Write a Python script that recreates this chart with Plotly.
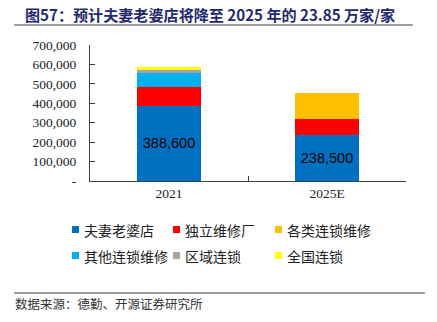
import plotly.graph_objects as go

categories = ["2021", "2025E"]
series_names = ["夫妻老婆店", "独立维修厂", "各类连锁维修", "其他连锁维修", "区域连锁", "全国连锁"]
mom_pop = [388600, 238500]
independent = [97000, 79000]
all_chains = [0, 134000]
other_chains = [72000, 0]
regional = [16000, 0]
national = [12000, 0]
colors = ["#0070C0", "#FF0000", "#FFC000", "#00B0F0", "#A5A5A5", "#FFFF00"]
y_tickvals = [0, 100000, 200000, 300000, 400000, 500000, 600000, 700000]
y_ticktext = ["-", "100,000", "200,000", "300,000", "400,000", "500,000", "600,000", "700,000"]

title_text = "图57：预计夫妻老婆店将降至 2025 年的 23.85 万家/家"
source_text = "数据来源：德勤、开源证券研究所"

series_values = [mom_pop, independent, all_chains, other_chains, regional, national]

# plot area geometry (px)
L, R, T, B = 90, 406, 45, 181
W, H = R - L, B - T

def fx(px):
    return (px - L) / W

def fy(py):
    return (B - py) / H

fig = go.Figure()
for i, (name, vals) in enumerate(zip(series_names, series_values)):
    kw = {}
    if i == 0:
        kw = dict(text=[f"{v:,}" for v in vals], textposition="inside",
                  insidetextanchor="middle",
                  textfont=dict(family="Liberation Sans, Arial", size=14.5, color="black"))
    fig.add_trace(go.Bar(x=categories, y=vals, name=name,
                         marker=dict(color=colors[i], line=dict(width=0)),
                         hoverinfo="skip", showlegend=False, **kw))

fig.update_layout(
    width=437, height=322,
    barmode="stack", bargap=0.595,
    margin=dict(l=L, r=437 - R, t=T, b=322 - B),
    plot_bgcolor="white", paper_bgcolor="white",
    showlegend=False,
    uniformtext=dict(minsize=8, mode="show"),
)
fig.update_xaxes(showline=True, linecolor="#404040", linewidth=1,
                 ticks="inside", ticklen=5, tickcolor="#404040",
                 tickson="boundaries",
                 tickfont=dict(family="Liberation Serif, Times New Roman", size=13.5, color="#222222"))
fig.update_yaxes(range=[0, 700000], showline=True, linecolor="#404040", linewidth=1,
                 tickvals=y_tickvals, ticktext=y_ticktext,
                 ticks="inside", ticklen=5, tickcolor="#404040",
                 ticklabelstandoff=10,
                 showgrid=False, zeroline=False,
                 tickfont=dict(family="Liberation Serif, Times New Roman", size=13.5, color="#222222"))

# legend drawn as swatches + labels (3 columns x 2 rows)
col_x = [72, 173, 275]
row_y = [229.5, 255.5]
for i, name in enumerate(series_names):
    cx = col_x[i % 3]
    cy = row_y[i // 3]
    fig.add_shape(type="rect", xref="paper", yref="paper",
                  x0=fx(cx), x1=fx(cx + 7), y0=fy(cy + 3.5), y1=fy(cy - 3.5),
                  fillcolor=colors[i], line=dict(width=0))
    fig.add_annotation(text=name, xref="paper", yref="paper",
                       x=fx(cx + 10), y=fy(cy), xanchor="left", yanchor="middle",
                       showarrow=False, align="left",
                       font=dict(family="Noto Sans CJK SC", size=14, color="#222222"))

fig.add_annotation(text=f"<b>{title_text}</b>", xref="paper", yref="paper",
                   x=fx(23), y=fy(14), xanchor="left", yanchor="middle",
                   showarrow=False, align="left",
                   font=dict(family="Noto Sans CJK SC", size=15.1, color="#1F2A6E"))
fig.add_shape(type="line", xref="paper", yref="paper",
              x0=fx(14), x1=fx(413), y0=fy(25), y1=fy(25),
              line=dict(color="#404040", width=1))
fig.add_shape(type="line", xref="paper", yref="paper",
              x0=fx(14), x1=fx(425), y0=fy(293), y1=fy(293),
              line=dict(color="#404040", width=1))
fig.add_annotation(text=source_text, xref="paper", yref="paper",
                   x=fx(13), y=fy(303), xanchor="left", yanchor="middle",
                   showarrow=False, align="left",
                   font=dict(family="Noto Sans CJK SC", size=12.5, color="#333333"))

fig.write_html("out.html")
